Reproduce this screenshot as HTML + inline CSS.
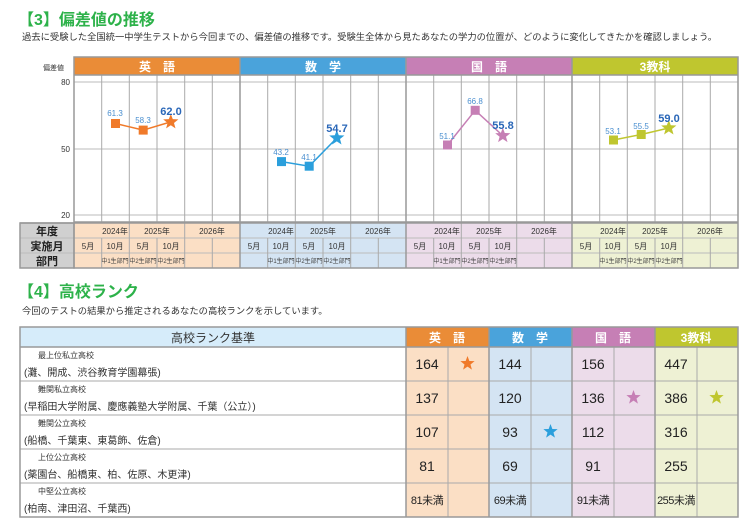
<!DOCTYPE html>
<html><head><meta charset="utf-8"><style>
body{margin:0;background:#fff;}
svg{display:block;font-family:"Liberation Sans","Noto Sans CJK JP",sans-serif;}
</style></head><body>
<svg width="751" height="531" viewBox="0 0 751 531" xmlns="http://www.w3.org/2000/svg">
<defs>
<symbol id="st" viewBox="-1 -1 2 2"><polygon points="0,-1 0.247,-0.34 0.951,-0.309 0.399,0.13 0.588,0.809 0,0.42 -0.588,0.809 -0.399,0.13 -0.951,-0.309 -0.247,-0.34"/></symbol>
</defs>
<text x="18" y="25" font-size="16" font-weight="bold" fill="#2db24a">【3】偏差値の推移</text>
<text x="22" y="40" font-size="9.3" fill="#333">過去に受験した全国統一中学生テストから今回までの、偏差値の推移です。受験生全体から見たあなたの学力の位置が、どのように変化してきたかを確認しましょう。</text>
<text x="43" y="70" font-size="7" fill="#333">偏差値</text>
<text x="70" y="85" font-size="8" fill="#333" text-anchor="end">80</text>
<text x="70" y="152" font-size="8" fill="#333" text-anchor="end">50</text>
<text x="70" y="218" font-size="8" fill="#333" text-anchor="end">20</text>
<rect x="74" y="57" width="166" height="18" fill="#ea8c37"/>
<rect x="240" y="57" width="166" height="18" fill="#4aa3db"/>
<rect x="406" y="57" width="166" height="18" fill="#c67fb5"/>
<rect x="572" y="57" width="166" height="18" fill="#bfc62f"/>
<g fill="#fff" font-size="12" font-weight="bold" text-anchor="middle">
<text x="157" y="71">英　語</text><text x="323" y="71">数　学</text><text x="489" y="71">国　語</text><text x="655" y="71">3教科</text></g>
<rect x="20" y="223" width="54" height="45" fill="#d0d0d0"/>
<rect x="74" y="223" width="166" height="45" fill="#fbdfc5"/>
<rect x="240" y="223" width="166" height="45" fill="#d4e4f3"/>
<rect x="406" y="223" width="166" height="45" fill="#ecdcea"/>
<rect x="572" y="223" width="166" height="45" fill="#eef1d4"/>
<g stroke="#bbb" stroke-width="1">
<line x1="74" y1="82" x2="738" y2="82"/><line x1="74" y1="149" x2="738" y2="149"/><line x1="74" y1="215" x2="738" y2="215"/>
<line x1="20" y1="238" x2="738" y2="238"/><line x1="20" y1="253" x2="738" y2="253"/>
</g>
<g stroke="#aaa" stroke-width="1">
<line x1="101.7" y1="75" x2="101.7" y2="223"/><line x1="129.3" y1="75" x2="129.3" y2="268"/><line x1="157" y1="75" x2="157" y2="223"/><line x1="184.7" y1="75" x2="184.7" y2="268"/><line x1="212.3" y1="75" x2="212.3" y2="223"/>
<line x1="267.7" y1="75" x2="267.7" y2="223"/><line x1="295.3" y1="75" x2="295.3" y2="268"/><line x1="323" y1="75" x2="323" y2="223"/><line x1="350.7" y1="75" x2="350.7" y2="268"/><line x1="378.3" y1="75" x2="378.3" y2="223"/>
<line x1="433.7" y1="75" x2="433.7" y2="223"/><line x1="461.3" y1="75" x2="461.3" y2="268"/><line x1="489" y1="75" x2="489" y2="223"/><line x1="516.7" y1="75" x2="516.7" y2="268"/><line x1="544.3" y1="75" x2="544.3" y2="223"/>
<line x1="599.7" y1="75" x2="599.7" y2="223"/><line x1="627.3" y1="75" x2="627.3" y2="268"/><line x1="655" y1="75" x2="655" y2="223"/><line x1="682.7" y1="75" x2="682.7" y2="268"/><line x1="710.3" y1="75" x2="710.3" y2="223"/>
<line x1="101.7" y1="238" x2="101.7" y2="268"/><line x1="157" y1="238" x2="157" y2="268"/><line x1="212.3" y1="238" x2="212.3" y2="268"/>
<line x1="267.7" y1="238" x2="267.7" y2="268"/><line x1="323" y1="238" x2="323" y2="268"/><line x1="378.3" y1="238" x2="378.3" y2="268"/>
<line x1="433.7" y1="238" x2="433.7" y2="268"/><line x1="489" y1="238" x2="489" y2="268"/><line x1="544.3" y1="238" x2="544.3" y2="268"/>
<line x1="599.7" y1="238" x2="599.7" y2="268"/><line x1="655" y1="238" x2="655" y2="268"/><line x1="710.3" y1="238" x2="710.3" y2="268"/>
</g>
<g stroke="#999" stroke-width="1.5" fill="none">
<line x1="74" y1="75" x2="738" y2="75"/><line x1="74" y1="222" x2="738" y2="222"/><line x1="20" y1="223" x2="738" y2="223"/>
<line x1="240" y1="57" x2="240" y2="268"/><line x1="406" y1="57" x2="406" y2="268"/><line x1="572" y1="57" x2="572" y2="268"/>
<rect x="74" y="57" width="664" height="211"/><rect x="20" y="223" width="54" height="45"/>
</g>
<g font-size="11" font-weight="bold" text-anchor="middle" fill="#222"><text x="47" y="235">年度</text><text x="47" y="250">実施月</text><text x="47" y="265">部門</text></g>
<g font-size="8" text-anchor="middle" fill="#333">
<text x="115" y="234">2024年</text><text x="157" y="234">2025年</text><text x="212" y="234">2026年</text>
<text x="281" y="234">2024年</text><text x="323" y="234">2025年</text><text x="378" y="234">2026年</text>
<text x="447" y="234">2024年</text><text x="489" y="234">2025年</text><text x="544" y="234">2026年</text>
<text x="613" y="234">2024年</text><text x="655" y="234">2025年</text><text x="710" y="234">2026年</text>
<text x="88" y="249">5月</text><text x="115" y="249">10月</text><text x="143" y="249">5月</text><text x="171" y="249">10月</text>
<text x="254" y="249">5月</text><text x="281" y="249">10月</text><text x="309" y="249">5月</text><text x="337" y="249">10月</text>
<text x="420" y="249">5月</text><text x="447" y="249">10月</text><text x="475" y="249">5月</text><text x="503" y="249">10月</text>
<text x="586" y="249">5月</text><text x="613" y="249">10月</text><text x="641" y="249">5月</text><text x="669" y="249">10月</text>
</g>
<g font-size="6" text-anchor="middle" fill="#444">
<text x="115" y="263">中1生部門</text><text x="143" y="263">中2生部門</text><text x="171" y="263">中2生部門</text>
<text x="281" y="263">中1生部門</text><text x="309" y="263">中2生部門</text><text x="337" y="263">中2生部門</text>
<text x="447" y="263">中1生部門</text><text x="475" y="263">中2生部門</text><text x="503" y="263">中2生部門</text>
<text x="613" y="263">中1生部門</text><text x="641" y="263">中2生部門</text><text x="669" y="263">中2生部門</text>
</g>
<polyline points="115.5,123.5 143.2,130.1 170.8,121.9" stroke="#f07a2a" stroke-width="1.5" fill="none"/>
<rect x="111" y="119" width="9" height="9" fill="#f07a2a"/><rect x="138.7" y="125.6" width="9" height="9" fill="#f07a2a"/>
<use href="#st" x="162.8" y="113.9" width="16" height="16" fill="#f07a2a"/>
<polyline points="281.5,161.6 309.2,166.2 336.8,138" stroke="#2b9fdc" stroke-width="1.5" fill="none"/>
<rect x="277" y="157.1" width="9" height="9" fill="#2b9fdc"/><rect x="304.7" y="161.7" width="9" height="9" fill="#2b9fdc"/>
<use href="#st" x="328.8" y="130" width="16" height="16" fill="#2b9fdc"/>
<polyline points="447.5,145 475.2,110.3 502.8,135.7" stroke="#c67fb5" stroke-width="1.5" fill="none"/>
<rect x="443" y="140.5" width="9" height="9" fill="#c67fb5"/><rect x="470.7" y="105.8" width="9" height="9" fill="#c67fb5"/>
<use href="#st" x="494.8" y="127.7" width="16" height="16" fill="#c67fb5"/>
<polyline points="613.5,140 641.2,134.5 668.8,128" stroke="#bfc62f" stroke-width="1.5" fill="none"/>
<rect x="609" y="135.5" width="9" height="9" fill="#bfc62f"/><rect x="636.7" y="130" width="9" height="9" fill="#bfc62f"/>
<use href="#st" x="660.8" y="120" width="16" height="16" fill="#bfc62f"/>
<g font-size="8" text-anchor="middle" fill="#4a8fd0">
<text x="115" y="116">61.3</text><text x="143" y="123">58.3</text>
<text x="281" y="155">43.2</text><text x="309" y="160">41.1</text>
<text x="447" y="139">51.1</text><text x="475" y="104">66.8</text>
<text x="613" y="134">53.1</text><text x="641" y="129">55.5</text></g>
<g font-size="11" font-weight="bold" text-anchor="middle" fill="#2a67b8">
<text x="171" y="115">62.0</text><text x="337" y="132">54.7</text><text x="503" y="129">55.8</text><text x="669" y="122">59.0</text></g>
<text x="18" y="297" font-size="16" font-weight="bold" fill="#2db24a">【4】高校ランク</text>
<text x="22" y="314" font-size="9.3" fill="#333">今回のテストの結果から推定されるあなたの高校ランクを示しています。</text>
<rect x="20" y="327" width="386" height="20" fill="#d6ecfa"/>
<rect x="406" y="327" width="83" height="20" fill="#ea8c37"/><rect x="489" y="327" width="83" height="20" fill="#4aa3db"/>
<rect x="572" y="327" width="83" height="20" fill="#c67fb5"/><rect x="655" y="327" width="83" height="20" fill="#bfc62f"/>
<rect x="406" y="347" width="83" height="170" fill="#fbdfc5"/><rect x="489" y="347" width="83" height="170" fill="#d4e4f3"/>
<rect x="572" y="347" width="83" height="170" fill="#ecdcea"/><rect x="655" y="347" width="83" height="170" fill="#eef1d4"/>
<text x="213" y="342" font-size="12" text-anchor="middle" fill="#333">高校ランク基準</text>
<g fill="#fff" font-size="12" font-weight="bold" text-anchor="middle"><text x="447" y="342">英　語</text><text x="530" y="342">数　学</text><text x="613" y="342">国　語</text><text x="696" y="342">3教科</text></g>
<g stroke="#aaa" stroke-width="1">
<line x1="20" y1="381" x2="738" y2="381"/><line x1="20" y1="415" x2="738" y2="415"/><line x1="20" y1="449" x2="738" y2="449"/><line x1="20" y1="483" x2="738" y2="483"/>
<line x1="448" y1="347" x2="448" y2="517"/><line x1="531" y1="347" x2="531" y2="517"/><line x1="614" y1="347" x2="614" y2="517"/><line x1="697" y1="347" x2="697" y2="517"/>
</g>
<g stroke="#999" stroke-width="1.5" fill="none"><rect x="20" y="327" width="718" height="190"/><line x1="20" y1="347" x2="738" y2="347"/>
<line x1="406" y1="327" x2="406" y2="517"/><line x1="489" y1="327" x2="489" y2="517"/><line x1="572" y1="327" x2="572" y2="517"/><line x1="655" y1="327" x2="655" y2="517"/></g>
<g font-size="8" fill="#333"><text x="38" y="358">最上位私立高校</text><text x="38" y="392">難関私立高校</text><text x="38" y="426">難関公立高校</text><text x="38" y="460">上位公立高校</text><text x="38" y="494">中堅公立高校</text></g>
<g font-size="10" fill="#333"><text x="24" y="376">(灘、開成、渋谷教育学園幕張)</text><text x="24" y="410">(早稲田大学附属、慶應義塾大学附属、千葉（公立）)</text><text x="24" y="444">(船橋、千葉東、東葛飾、佐倉)</text><text x="24" y="478">(薬園台、船橋東、柏、佐原、木更津)</text><text x="24" y="512">(柏南、津田沼、千葉西)</text></g>
<g font-size="14" fill="#222" text-anchor="middle">
<text x="427" y="369">164</text><text x="510" y="369">144</text><text x="593" y="369">156</text><text x="676" y="369">447</text>
<text x="427" y="403">137</text><text x="510" y="403">120</text><text x="593" y="403">136</text><text x="676" y="403">386</text>
<text x="427" y="437">107</text><text x="510" y="437">93</text><text x="593" y="437">112</text><text x="676" y="437">316</text>
<text x="427" y="471">81</text><text x="510" y="471">69</text><text x="593" y="471">91</text><text x="676" y="471">255</text></g>
<g font-size="11" fill="#222" text-anchor="middle" letter-spacing="-0.5">
<text x="427" y="504">81未満</text><text x="510" y="504">69未満</text><text x="593" y="504">91未満</text><text x="676" y="504">255未満</text></g>
<use href="#st" x="460" y="356" width="15" height="15" fill="#f07a2a"/>
<use href="#st" x="543" y="424" width="15" height="15" fill="#2b9fdc"/>
<use href="#st" x="626" y="390" width="15" height="15" fill="#c67fb5"/>
<use href="#st" x="709" y="390" width="15" height="15" fill="#bfc62f"/>
</svg>
</body></html>
